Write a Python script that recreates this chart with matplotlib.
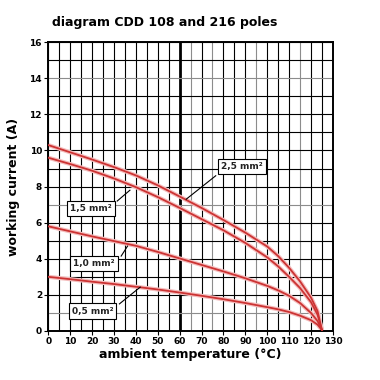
import matplotlib
matplotlib.use("Agg")
import matplotlib.pyplot as plt

# temperature points (deg C) and working current per cable section (A)
temp = [0, 10, 20, 30, 40, 50, 60, 70, 80, 90, 100, 105, 110, 115, 120, 123, 125]
i_25 = [10.3, 9.9, 9.5, 9.08, 8.62, 8.07, 7.45, 6.82, 6.15, 5.45, 4.68, 4.15, 3.5, 2.75, 1.85, 1.1, 0.05]
i_15 = [9.6, 9.25, 8.88, 8.45, 7.97, 7.42, 6.82, 6.2, 5.58, 4.88, 4.08, 3.58, 3.0, 2.38, 1.6, 0.9, 0.05]
i_10 = [5.8, 5.52, 5.24, 4.98, 4.72, 4.38, 4.02, 3.66, 3.3, 2.92, 2.5, 2.25, 1.95, 1.55, 1.0, 0.55, 0.05]
i_05 = [3.0, 2.87, 2.73, 2.6, 2.45, 2.3, 2.13, 1.95, 1.76, 1.55, 1.32, 1.2, 1.05, 0.85, 0.6, 0.35, 0.05]

labels = ["2,5 mm²", "1,5 mm²", "1,0 mm²", "0,5 mm²"]
curves = [i_25, i_15, i_10, i_05]
# label box centre and the point on the curve the leader points to
label_pos = [(88.5, 9.1), (19.5, 6.8), (21.0, 3.75), (20.2, 1.1)]
leader_from = [(76.5, 8.6), (31.5, 7.2), (33.3, 4.15), (32.5, 1.5)]
leader_to = [(63.0, 7.3), (37.3, 7.8), (36.2, 4.7), (42.0, 2.43)]

fig = plt.figure(figsize=(3.8, 3.8), dpi=100)
ax = fig.add_axes([0.127, 0.129, 0.749, 0.76])

# grid: every 5 deg and every 1 A, a few lines lighter like the scan
for x in range(0, 131, 5):
    col = "#8c8c8c" if x in (65, 75, 95, 115) else "black"
    lw = 2.0 if x == 60 else 0.8
    ax.axvline(x, color=col, lw=lw, zorder=1)
for y in range(0, 17):
    col = "#8c8c8c" if y in (1, 7, 14) else "black"
    ax.axhline(y, color=col, lw=0.8, zorder=1)

for c in curves:
    ax.plot(temp, c, color="#f4bcbc", lw=3.0, zorder=2, solid_capstyle="round")
    ax.plot(temp, c, color="#cc3333", lw=1.3, zorder=3)

for lab, p, a, b in zip(labels, label_pos, leader_from, leader_to):
    ax.plot([a[0], b[0]], [a[1], b[1]], color="black", lw=0.8, zorder=4)
    ax.text(p[0], p[1], lab, ha="center", va="center", fontsize=6.5, fontweight="bold",
            color="#222222", zorder=5,
            bbox=dict(boxstyle="square,pad=0.35", fc="white", ec="black", lw=0.8))

ax.set_xlim(0, 130)
ax.set_ylim(0, 16)
ax.set_xticks(range(0, 131, 10))
ax.set_yticks(range(0, 17, 2))
ax.tick_params(labelsize=6.5, length=3, width=0.8, pad=1.5)
for t in ax.get_xticklabels() + ax.get_yticklabels():
    t.set_fontweight("bold")
for s in ax.spines.values():
    s.set_linewidth(1.4)

ax.set_xlabel("ambient temperature (°C)", fontsize=9, fontweight="bold", labelpad=1)
ax.set_ylabel("working current (A)", fontsize=9, fontweight="bold", labelpad=7)
fig.text(0.137, 0.94, "diagram CDD 108 and 216 poles", fontsize=9, fontweight="bold",
         ha="left", va="center")

fig.savefig("out.png", dpi=100)
